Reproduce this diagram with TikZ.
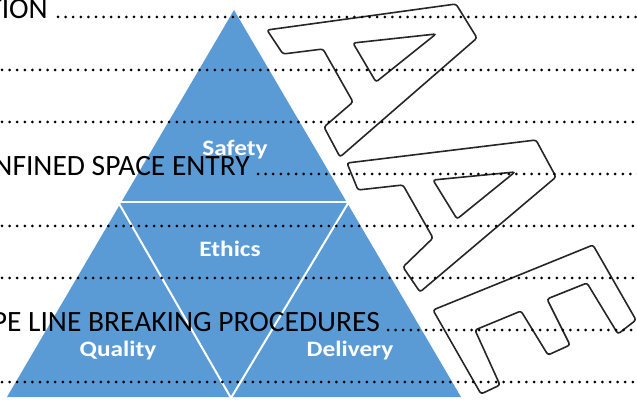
\documentclass[tikz,border=0pt]{standalone}
\usepackage{fontspec}
\setmainfont{Carlito}
\newfontfamily\lblfont[FakeStretch=1.15]{Carlito}
\usetikzlibrary{shapes,arrows}
\definecolor{pyrblue}{RGB}{91,155,213}

\begin{document}
\begin{tikzpicture}[x=1pt,y=1pt,yscale=-1,xscale=1,
  pyr/.style={fill=pyrblue},
  gap/.style={draw=white,line width=2pt},
  lbl/.style={text=white,font=\lblfont\bfseries\fontsize{22}{22}\selectfont,anchor=base,inner sep=0},
  entry/.style={font=\fontsize{29.5}{29.5}\selectfont,anchor=base east,inner sep=0},
  leader/.style={line width=3pt,line cap=round,dash pattern=on 0pt off 7.6pt},
  wmark/.style={draw=black!85,line width=1.6pt,rounded corners=2.5pt}]
%set diagram to 637 x 403, text cut at the left edge
\useasboundingbox (0,0) rectangle (637,403);
\clip (0,0) rectangle (637,403);

\fill[pyr] (234,10) -- (461,397) -- (7,397) -- cycle;
\draw[gap] (110,202) -- (360,202);
\draw[gap] (117,200) -- (231,398) -- (350,200);

\node[lbl] (safety) at (235,156) {Safety};
\node[lbl] (ethics) at (230,257) {Ethics};
\node[lbl] (quality) at (118,356) {Quality};
\node[lbl] (delivery) at (350,356) {Delivery};

\draw[wmark] (267,30) -- (456,4) -- (477,38) -- (340,157) -- (324,127) -- (353,102) -- (323,49) -- (283,54) -- cycle;
\draw[wmark] (353,43) -- (436,34) -- (376,82) -- cycle;
\draw[wmark] (347,163) -- (536,140) -- (556,177) -- (420,292) -- (403,267) -- (433,238) -- (403,185) -- (358,190) -- cycle;
\draw[wmark] (433,180) -- (515,172) -- (457,219) -- cycle;
\draw[wmark] (433,310) -- (593,245) -- (636,320) -- (618,334) -- (587,283) -- (547,299) -- (570,345) -- (548,355) -- (521,311) -- (475,330) -- (500,385) -- (481,394) -- cycle;

\node[entry] (tion) at (48,18.5) {TION};
\node[entry] (confined) at (250,175.5) {NFINED SPACE ENTRY};
\node[entry] (pipeline) at (380,331.5) {PE LINE BREAKING PROCEDURES};

\coordinate (end1) at (640,17);
\coordinate (end4) at (640,174);
\coordinate (end7) at (640,330);
\draw[leader] (tion.base east) ++(10,-1.5) -- (end1);
\draw[leader] (confined.base east) ++(8,-1.5) -- (end4);
\draw[leader] (pipeline.base east) ++(8,-1.5) -- (end7);
\foreach \y in {70,122,226,278,382}
  \draw[leader] (2,\y) -- (640,\y);
\end{tikzpicture}
\end{document}
